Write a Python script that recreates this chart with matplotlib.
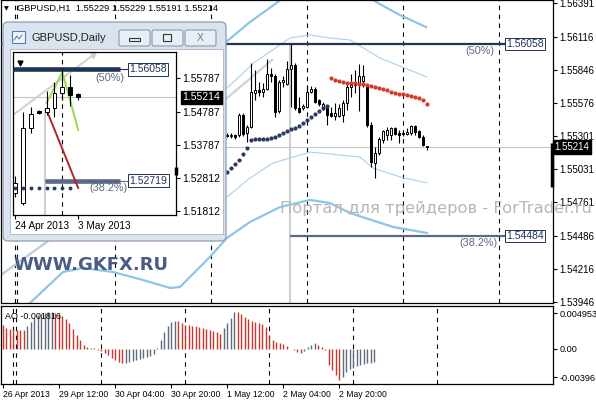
import numpy as np
import matplotlib
matplotlib.use('Agg')
import matplotlib.pyplot as plt
from matplotlib.patches import FancyBboxPatch, Rectangle

plt.rcParams['font.family'] = ['Liberation Sans', 'DejaVu Sans']

W, H = 596, 400

# ---------------- H1 candles (bar index, 0 = 26 Apr 20:00) ----------------
h_idx = list(range(56, 107))
h_open = [1.55311, 1.55303, 1.55311, 1.55311, 1.55475, 1.55328, 1.55377, 1.55655, 1.55680, 1.55663,
          1.55688, 1.55811, 1.55794, 1.55508, 1.55745, 1.55729, 1.55851, 1.55884, 1.55532, 1.55532,
          1.55541, 1.55663, 1.55688, 1.55598, 1.55541, 1.55549, 1.55491, 1.55467, 1.55467, 1.55475,
          1.55573, 1.55704, 1.55745, 1.55729, 1.55753, 1.55721, 1.55393, 1.55082, 1.55164, 1.55271,
          1.55311, 1.55311, 1.55369, 1.55328, 1.55328, 1.55320, 1.55328, 1.55385, 1.55344, 1.55295,
          1.55221]
h_high = [1.55328, 1.55328, 1.55320, 1.55491, 1.55491, 1.55393, 1.55900, 1.55843, 1.55745, 1.55737,
          1.55933, 1.55860, 1.55811, 1.55761, 1.55794, 1.55917, 1.56056, 1.55900, 1.55620, 1.55565,
          1.55721, 1.55712, 1.55704, 1.55606, 1.55581, 1.55557, 1.55541, 1.55573, 1.55565, 1.55598,
          1.55729, 1.55811, 1.55843, 1.55892, 1.55884, 1.55729, 1.55418, 1.55213, 1.55295, 1.55352,
          1.55377, 1.55377, 1.55377, 1.55352, 1.55344, 1.55369, 1.55393, 1.55393, 1.55352, 1.55311,
          1.55221]
h_low = [1.55295, 1.55287, 1.55279, 1.55295, 1.55303, 1.55254, 1.55369, 1.55598, 1.55630, 1.55622,
         1.55680, 1.55745, 1.55455, 1.55491, 1.55704, 1.55721, 1.55541, 1.55516, 1.55491, 1.55516,
         1.55532, 1.55655, 1.55573, 1.55549, 1.55516, 1.55393, 1.55455, 1.55434, 1.55455, 1.55418,
         1.55516, 1.55622, 1.55655, 1.55508, 1.55704, 1.55377, 1.55050, 1.54960, 1.55148, 1.55246,
         1.55271, 1.55271, 1.55311, 1.55246, 1.55303, 1.55311, 1.55311, 1.55311, 1.55287, 1.55221,
         1.55189]
h_close = [1.55303, 1.55311, 1.55295, 1.55475, 1.55320, 1.55377, 1.55663, 1.55680, 1.55663, 1.55688,
           1.55811, 1.55794, 1.55500, 1.55745, 1.55761, 1.55851, 1.55884, 1.55532, 1.55500, 1.55549,
           1.55663, 1.55688, 1.55581, 1.55565, 1.55565, 1.55475, 1.55467, 1.55491, 1.55532, 1.55573,
           1.55704, 1.55721, 1.55721, 1.55794, 1.55794, 1.55393, 1.55090, 1.55164, 1.55279, 1.55344,
           1.55352, 1.55369, 1.55320, 1.55311, 1.55320, 1.55336, 1.55385, 1.55336, 1.55295, 1.55230,
           1.55214]

# dotted indicator under / over price
sar_low_idx = list(range(56, 82))
sar_low = [1.55009, 1.55041, 1.55074, 1.55107, 1.55156, 1.55205, 1.55271, 1.55279, 1.55279, 1.55279,
           1.55279, 1.55287, 1.55295, 1.55311, 1.55328, 1.55344, 1.55361, 1.55369, 1.55385, 1.55410,
           1.55434, 1.55459, 1.55483, 1.55508, 1.55532, 1.55549]
sar_high_idx = list(range(82, 107))
sar_high = [1.55778, 1.55761, 1.55753, 1.55745, 1.55737, 1.55737, 1.55737, 1.55729, 1.55729, 1.55720,
            1.55712, 1.55704, 1.55696, 1.55688, 1.55680, 1.55663, 1.55655, 1.55647, 1.55647, 1.55639,
            1.55631, 1.55622, 1.55614, 1.55598, 1.55565]

# channel lines (bar index, price)
up_thick_x = [55.75, 61.75, 68.75, 74.25, 86.75, 93.75, 99.25, 105.75]
up_thick_y = [1.56072, 1.56236, 1.56400, 1.56539, 1.56539, 1.56391, 1.56293, 1.56195]
up_thin_x = [56, 63, 71.75, 76.75, 81.75, 86.75, 94.25, 106]
up_thin_y = [1.55696, 1.55909, 1.56105, 1.56130, 1.56105, 1.56089, 1.55941, 1.55786]
lo_thin_x = [-0.75, 11, 56, 61.75, 67.5, 74.25, 76.75, 84.25, 89.25, 92.5, 99.25, 106]
lo_thin_y = [1.54166, 1.54444, 1.54804, 1.54960, 1.55082, 1.55148, 1.55172, 1.55148, 1.55131,
             1.55041, 1.54968, 1.54919]
lo_thick_x = [-0.75, 6.75, 15, 20, 27.5, 35, 41.75, 44.25, 51, 56, 61.75, 69.25, 76.75, 81.75,
              86.75, 97.5, 106]
lo_thick_y = [1.53716, 1.53937, 1.54191, 1.54223, 1.54191, 1.54125, 1.54060, 1.54068, 1.54289,
              1.54469, 1.54600, 1.54722, 1.54780, 1.54755, 1.54673, 1.54559, 1.54510]
trend_x = [-0.75, 11, 56, 67.25]
trend_y = [1.54158, 1.54436, 1.55614, 1.55925]

# AO histogram (x 1e-3), bars 0..106
ao = [3.3, 2.9, 2.8, 2.75, 2.7, 2.65, 2.6, 3.2, 3.8, 4.3,
      4.7, 4.9, 5.0, 5.1, 5.15, 5.05, 4.9, 4.6, 4.2, 3.6,
      2.8, 1.9, 1.2, 0.5, 0.2, 0.1, 0.12, -0.1, -0.3, -0.6,
      -0.9, -1.2, -1.5, -1.8, -2.0, -1.9, -1.8, -1.65, -1.5, -1.4,
      -1.3, -1.15, -1.0, -0.7, 0.1, 1.2, 2.3, 3.2, 3.7, 3.9,
      3.85, 3.6, 3.35, 3.3, 3.2, 3.15, 3.05, 2.95, 2.8, 2.7,
      2.55, 2.3, 2.1, 2.9, 3.6, 4.3, 5.2, 5.1, 4.8, 4.4,
      4.1, 3.9, 3.7, 3.6, 3.4, 3.0, 1.8, 1.2, 1.0, 0.85,
      0.7, 0.4, 0.05, -0.2, -0.4, -0.6, -0.3, 0.3, 0.5, 0.8,
      0.5, 0.2, -0.1, -2.2, -2.9, -3.7, -4.3, -3.9, -3.2, -2.8,
      -2.6, -2.4, -2.2, -2.1, -2.0, -1.9, -1.816]

time_ticks = [0, 16, 32, 48, 64, 80, 96]
time_labels = ['26 Apr 2013', '29 Apr 12:00', '30 Apr 04:00', '30 Apr 20:00',
               '1 May 12:00', '2 May 04:00', '2 May 20:00']
day_lines = [2.9, 3.6, 28, 52, 76, 100, 124]

price_ticks = [1.56391, 1.56116, 1.55846, 1.55576, 1.55301, 1.55031, 1.54761,
               1.54486, 1.54216, 1.53946]
ao_ticks = [0.004953, 0.0, -0.00396]
ao_tick_labels = ['0.004953', '0.00', '-0.00396']
last_price = 1.55214
fib_50, fib_382 = 1.56058, 1.54484
edge_bar = (1.54886, 1.55246)

# ---------------- Daily candles (inset) ----------------
d_idx = list(range(9))
d_open = [1.52351, 1.52051, 1.54298, 1.54807, 1.54777, 1.54897, 1.55346, 1.55526, 1.55306]
d_high = [1.52860, 1.54777, 1.54927, 1.54837, 1.55406, 1.55676, 1.56058, 1.55886, 1.55350]
d_low = [1.52231, 1.52000, 1.54148, 1.54717, 1.54687, 1.54627, 1.55137, 1.54957, 1.55150]
d_close = [1.52651, 1.54298, 1.54717, 1.54747, 1.54897, 1.55346, 1.55526, 1.55287, 1.55214]
d_ticks = [1.55787, 1.54787, 1.53787, 1.52812, 1.51812]
d_fib_50, d_fib_382 = 1.56058, 1.52719
d_dots_y = 1.52501
red_leg_x, red_leg_y = [4, 8], [1.54834, 1.52501]
green_leg_x, green_leg_y = [4, 6, 8], [1.55047, 1.55976, 1.54239]
gray_leg_x, gray_leg_y = [-0.25, 9.9], [1.54685, 1.56485]

NAVY = '#1f3556'
SLATE = '#5a6986'
PCT = '#5a6880'


def rect(x, y, w, h):
    return [x / W, 1 - (y + h) / H, w / W, h / H]


def candles(a, x, o, h, l, c, width):
    o, h, l, c = map(np.array, (o, h, l, c))
    a.vlines(x, l, h, color='black', lw=0.8, zorder=4)
    bottom = np.minimum(o, c)
    height = np.maximum(np.abs(c - o), 0.00002)
    fc = ['white' if cc >= oo else 'black' for oo, cc in zip(o, c)]
    a.bar(x, height, width, bottom=bottom, color=fc, edgecolor='black', lw=0.7, zorder=5)


def price_box(a, y, txt, x, color):
    a.text(x, y, txt, fontsize=7.5, color=color, va='center', ha='left', zorder=8,
           bbox=dict(boxstyle='square,pad=0.12', fc='white', ec=color, lw=0.7), clip_on=False)


fig = plt.figure(figsize=(5.96, 4.0), dpi=100)
fig.patch.set_facecolor('white')

# ---------------- main H1 panel ----------------
ax = fig.add_axes(rect(1, 0, 552, 303))
ax.set_xlim(-0.5, 137.5)
ax.set_ylim(1.53937, 1.56416)
for x in day_lines:
    ax.axvline(x, color='black', lw=0.8, ls=(0, (4, 4)), zorder=1)
ax.axhline(last_price, color='#c4c4c4', lw=0.8, zorder=1)
ax.plot(trend_x, trend_y, color='#d2d2d2', lw=1.6, zorder=2)
ax.plot(up_thick_x, up_thick_y, color='#8cc5e6', lw=1.6, zorder=2)
ax.plot(lo_thick_x, lo_thick_y, color='#8cc5e6', lw=1.6, zorder=2)
ax.plot(up_thin_x, up_thin_y, color='#a8d2ec', lw=0.8, zorder=2)
ax.plot(lo_thin_x, lo_thin_y, color='#a8d2ec', lw=0.8, zorder=2)
ax.vlines(71.75, ax.get_ylim()[0], fib_50, color='#cfcfcf', lw=1.5, zorder=2)
ax.hlines(fib_50, -0.5, 125.5, color=NAVY, lw=1.6, zorder=3)
ax.hlines(fib_382, 71.75, 125.5, color=SLATE, lw=1.6, zorder=3)
price_box(ax, fib_50, '1.56058', 125.9, NAVY)
price_box(ax, fib_382, '1.54484', 125.9, NAVY)
ax.text(122.8, 1.55999, '(50%)', fontsize=7.8, color=PCT, ha='right', va='center')
ax.text(123.6, 1.54428, '(38.2%)', fontsize=7.8, color=PCT, ha='right', va='center')
candles(ax, h_idx, h_open, h_high, h_low, h_close, 0.72)
ax.plot(sar_low_idx, sar_low, ls='none', marker='o', ms=2.0, color='#2a3b5c', zorder=6)
ax.plot(sar_high_idx, sar_high, ls='none', marker='o', ms=2.0, color='#d23a28', zorder=6)
ax.vlines(137.3, edge_bar[0], edge_bar[1], color='black', lw=2.5, zorder=7, clip_on=False)
ax.yaxis.tick_right()
ax.set_yticks(price_ticks)
ax.set_yticklabels([f'{p:.5f}' for p in price_ticks])
ax.tick_params(axis='y', labelsize=7, length=3, pad=1.5, width=0.8)
ax.set_xticks([])
for s in ax.spines.values():
    s.set_linewidth(0.9)
ax.text(1.003, last_price, '1.55214', transform=ax.get_yaxis_transform(), fontsize=7,
        color='white', va='center', ha='left', zorder=9,
        bbox=dict(boxstyle='square,pad=0.2', fc='black', ec='black'), clip_on=False)
ax.text(0.006, 0.972, '\u25bc', transform=ax.transAxes, fontsize=4.5, ha='left', va='center',
        family='DejaVu Sans')
ax.text(0.029, 0.972, 'GBPUSD,H1  1.55229 1.55229 1.55191 1.55214', transform=ax.transAxes,
        fontsize=6.7, ha='left', va='center')

# ---------------- AO panel ----------------
ax_ao = fig.add_axes(rect(1, 306, 552, 78))
ax_ao.set_xlim(-0.571, 157.14)
ax_ao.set_ylim(-0.004888, 0.005974)
for x in day_lines:
    ax_ao.axvline(x, color='black', lw=0.8, ls=(0, (4, 4)), zorder=1)
ao_vals = np.array(ao) / 1000
ao_cols = ['#c8372d' if i == 0 or ao_vals[i] < ao_vals[i - 1] else '#5f6b7d'
           for i in range(len(ao_vals))]
ax_ao.vlines(range(len(ao_vals)), 0, ao_vals, colors=ao_cols, lw=1.0, zorder=3)
ax_ao.yaxis.tick_right()
ax_ao.set_yticks(ao_ticks)
ax_ao.set_yticklabels(ao_tick_labels)
ax_ao.set_xticks(time_ticks)
ax_ao.set_xticklabels(time_labels)
for lab in ax_ao.get_xticklabels():
    lab.set_ha('left')
ax_ao.tick_params(axis='x', labelsize=6.2, length=3, pad=1.5, width=0.8)
ax_ao.tick_params(axis='y', labelsize=6.6, length=3, pad=1.5, width=0.8)
for s in ax_ao.spines.values():
    s.set_linewidth(0.9)
ax_ao.text(0.008, 0.87, 'AO -0.001816', transform=ax_ao.transAxes, fontsize=6.5,
           ha='left', va='center', zorder=6)

# ---------------- window chrome of the daily chart ----------------
ax_w = fig.add_axes([0, 0, 1, 1])
ax_w.set_xlim(0, W)
ax_w.set_ylim(H, 0)
ax_w.set_axis_off()
ax_w.add_patch(FancyBboxPatch((3, 22), 223, 219, boxstyle='round,pad=0,rounding_size=5',
                              fc='#dbe4ee', ec='#8d9db3', lw=0.9))
ax_w.add_patch(Rectangle((10, 49), 213, 185, fc='white', ec='#a7b3c3', lw=0.6))
ax_w.add_patch(Rectangle((12, 31), 13, 12, fc='#eef4fa', ec='#4f7fb5', lw=0.8))
ax_w.plot([14, 17, 19, 22], [40, 36, 39, 35], color='#4f7fb5', lw=0.7)
ax_w.text(32, 38, 'GBPUSD,Daily', fontsize=8, color='#222222', va='center', ha='left')
for bx in (119, 152, 185):
    ax_w.add_patch(FancyBboxPatch((bx, 30), 31, 16, boxstyle='round,pad=0,rounding_size=2',
                                  fc='#e8eef5', ec='#7d8ea5', lw=0.7))
ax_w.add_patch(Rectangle((129, 38), 11, 3, fc='none', ec='#333333', lw=0.8))
ax_w.add_patch(Rectangle((163, 34), 8, 7, fc='none', ec='#333333', lw=0.8))
ax_w.text(200.5, 38, 'X', fontsize=7.5, color='#777777', ha='center', va='center')

# ---------------- daily chart ----------------
ax_d = fig.add_axes(rect(13, 52, 163, 163))
ax_d.set_xlim(-0.253, 20.38)
ax_d.set_ylim(1.51692, 1.56575)
ax_d.axhline(last_price, color='#c4c4c4', lw=0.8, zorder=1)
ax_d.axvline(5.95, color='black', lw=0.8, ls=(0, (4, 4)), zorder=1)
ax_d.vlines(3.8, ax_d.get_ylim()[0], 1.54868, color='#cfcfcf', lw=1.5, zorder=1)
ax_d.plot(gray_leg_x, gray_leg_y, color='#d2d2d2', lw=1.5, zorder=2)
ax_d.plot(9.9, 1.56480, marker='v', ms=5, color='#cccccc', zorder=2, clip_on=False)
ax_d.hlines(d_fib_50, -0.25, 14.4, color=NAVY, lw=0.8, zorder=3)
ax_d.hlines(d_fib_50, -0.25, 13.3, color=NAVY, lw=3.3, zorder=3)
ax_d.hlines(d_fib_382, 3.8, 14.4, color=SLATE, lw=0.8, zorder=3)
ax_d.hlines(d_fib_382, 3.8, 13.3, color=SLATE, lw=3.3, zorder=3)
price_box(ax_d, d_fib_50, '1.56058', 14.5, NAVY)
price_box(ax_d, d_fib_382, '1.52719', 14.5, NAVY)
ax_d.text(13.9, 1.55787, '(50%)', fontsize=7.8, color=PCT, ha='right', va='center')
ax_d.text(14.3, 1.52501, '(38.2%)', fontsize=7.8, color=PCT, ha='right', va='center')
ax_d.plot(d_idx[:8], [d_dots_y] * 8, ls='none', marker='o', ms=1.8, color='#2a3b5c', zorder=6)
ax_d.plot(red_leg_x, red_leg_y, color='#b0262a', lw=1.4, zorder=4)
ax_d.plot(green_leg_x, green_leg_y, color='#9ad94a', lw=1.4, zorder=4)
candles(ax_d, d_idx, d_open, d_high, d_low, d_close, 0.5)
ax_d.plot(0.63, 1.56245, marker='v', ms=3.5, color='black', zorder=6)
ax_d.vlines(20.38, 1.52890, 1.53130, color='black', lw=2.5, zorder=7, clip_on=False)
ax_d.yaxis.tick_right()
ax_d.set_yticks(d_ticks)
ax_d.set_yticklabels([f'{p:.5f}' for p in d_ticks])
ax_d.set_xticks([0, 8])
ax_d.set_xticklabels(['24 Apr 2013', '3 May 2013'])
for lab in ax_d.get_xticklabels():
    lab.set_ha('left')
ax_d.tick_params(axis='x', labelsize=7.2, length=3, pad=1.5, width=0.8)
ax_d.tick_params(axis='y', labelsize=7.5, length=3, pad=1.5, width=0.8)
for s in ax_d.spines.values():
    s.set_linewidth(0.9)
ax_d.text(1.04, last_price, '1.55214', transform=ax_d.get_yaxis_transform(), fontsize=7.5,
          color='white', va='center', ha='left', zorder=9,
          bbox=dict(boxstyle='square,pad=0.15', fc='black', ec='black'), clip_on=False)

# ---------------- watermarks ----------------
fig.text(280 / W, 1 - 208 / H, 'Портал для трейдеров - ForTrader.ru', fontsize=11.8,
         color='#b6b6b6', ha='left', va='center', family='DejaVu Sans')
fig.text(13 / W, 1 - 265 / H, 'WWW.GKFX.RU', fontsize=13, fontweight='bold',
         color='#4b5b84', ha='left', va='center', family='DejaVu Sans')

fig.savefig('out.png', dpi=100)
